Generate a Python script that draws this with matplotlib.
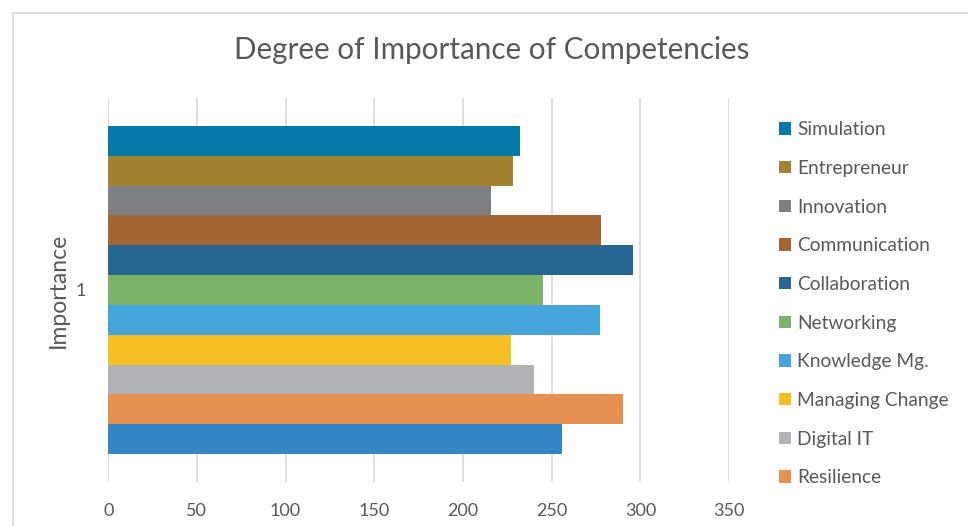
import matplotlib.pyplot as plt
from matplotlib.lines import Line2D

# Data (top bar first)
names = ['Simulation', 'Entrepreneur', 'Innovation', 'Communication', 'Collaboration',
         'Networking', 'Knowledge Mg.', 'Managing Change', 'Digital IT', 'Resilience', 'Other']
values = [232, 228, 216, 278, 296, 245, 277, 227, 240, 290, 256]
colors = ['#0779A8', '#A38331', '#7E7F83', '#A36633', '#276690',
          '#7BB368', '#45A4DA', '#F6C024', '#B1B2B5', '#E69152', '#3385C6']
xticks = [0, 50, 100, 150, 200, 250, 300, 350]
n_legend = 10  # last entry is cut off in the original legend

W, H = 968, 526
txt = '#595959'
grid_c = '#D9D9D9'
plt.rcParams['font.family'] = ['Lato', 'DejaVu Sans']

fig = plt.figure(figsize=(W / 100, H / 100), dpi=100)

# outer chart border (cropped at right and bottom)
fig.add_artist(Line2D([12.5 / W, 12.5 / W], [0, 1 - 12.5 / H], color=grid_c, lw=1.2))
fig.add_artist(Line2D([12.5 / W, 1], [1 - 12.5 / H, 1 - 12.5 / H], color=grid_c, lw=1.2))

ax = fig.add_axes([108.2 / W, (H - 482) / H, (729 - 108.2) / W, 384 / H])

n = len(values)
bh = 328 / 384 / n
ys = [(n - 1) / 2 * bh - i * bh for i in range(n)]
bars = []
for y, v, c, name in zip(ys, values, colors, names):
    b = ax.barh(y, v, height=bh, color=c, label=name, linewidth=0)
    bars.append(b)

ax.set_xlim(0, 350)
ax.set_ylim(-0.5, 0.5)
ax.set_xticks(xticks)
ax.set_yticks([0])
ax.set_yticklabels(['1'])
ax.grid(axis='x', color=grid_c, lw=1.2)
ax.set_axisbelow(True)
for s in ax.spines.values():
    s.set_visible(False)
ax.tick_params(length=0, labelsize=13, colors=txt, pad=15)
ax.tick_params(axis='y', pad=16)
ax.set_ylabel('Importance', fontsize=16.5, color=txt, va='center')
ax.yaxis.set_label_coords((58 - 108.2) / (729 - 108.2), 0.5)

fig.text(492 / W, 1 - 50 / H, 'Degree of Importance of Competencies',
         ha='center', va='center', fontsize=21.3, color=txt)

fig.legend(handles=[b for b in bars[:n_legend]], labels=names[:n_legend],
           loc='upper left', bbox_to_anchor=(762 / W, 1 - 104 / H), frameon=False,
           fontsize=13.8, labelcolor=txt, handlelength=0.62, handleheight=0.62,
           handletextpad=0.3, labelspacing=1.13)

fig.savefig('out.png', dpi=100)
